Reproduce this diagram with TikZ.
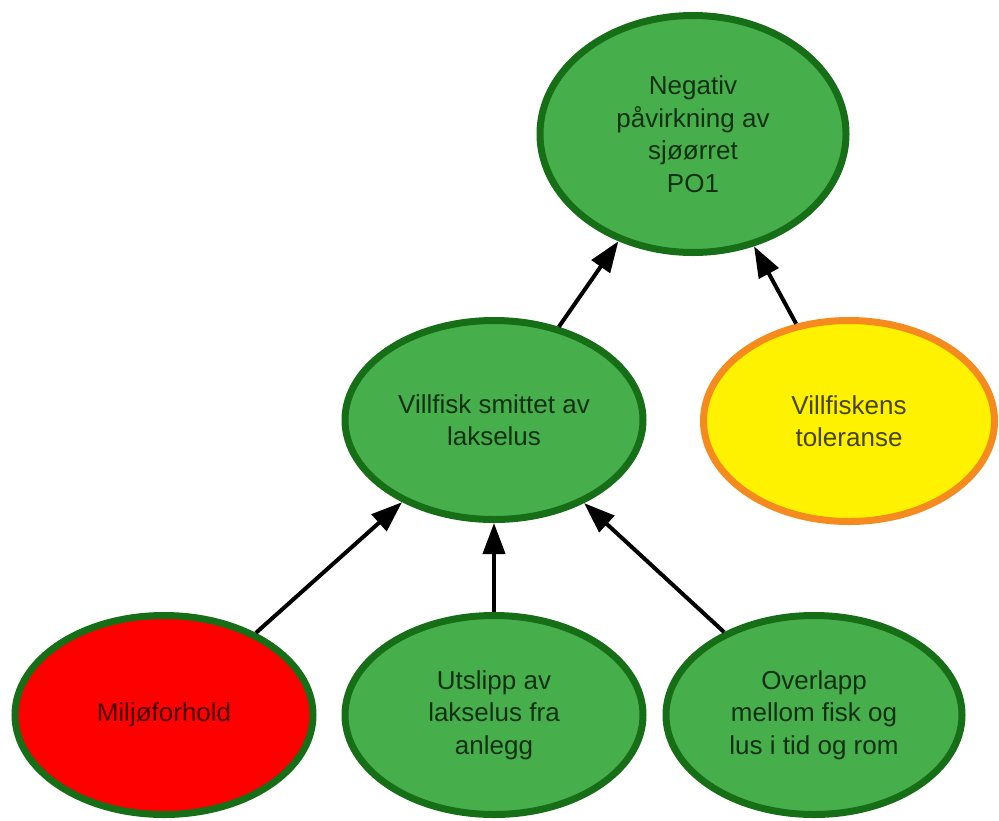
\documentclass[tikz,border=0pt]{standalone}
\usepackage{fontspec}
\setmainfont{Liberation Sans}
\usetikzlibrary{shapes.geometric,arrows.meta}
\definecolor{gfill}{HTML}{46AF4B}
\definecolor{gborder}{HTML}{166E16}
\definecolor{yfill}{HTML}{FFF200}
\definecolor{oborder}{HTML}{F58A1F}
\definecolor{rfill}{HTML}{FF0000}
\begin{document}
\begin{tikzpicture}[x=1pt,y=-1pt,
  oval/.style={ellipse, draw=gborder, line width=7pt, fill=gfill, inner sep=0pt,
    align=center, font=\fontsize{26}{32.5}\selectfont, text opacity=0.72,
    minimum width=298pt, minimum height=199pt},
  conn/.style={-{Triangle[length=31pt,width=22pt]}, line width=4pt, black}]
\useasboundingbox (0,0) rectangle (999,820);
\node[oval, minimum width=306pt, minimum height=237pt] (top) at (693,134) {Negativ\\påvirkning av\\sjøørret\\PO1};
\node[oval] (mid) at (494,420) {Villfisk smittet av\\lakselus};
\node[oval, draw=oborder, fill=yfill, minimum width=291pt, minimum height=201pt] (tol) at (849,421) {Villfiskens\\toleranse};
\node[oval, fill=rfill] (milj) at (164,715) {Miljøforhold};
\node[oval] (uts) at (494,715) {Utslipp av\\lakselus fra\\anlegg};
\node[oval, minimum width=296pt] (over) at (814,715) {Overlapp\\mellom fisk og\\lus i tid og rom};
\draw[conn] (mid) -- (top);
\draw[conn] (tol) -- (top);
\draw[conn] (milj) -- (mid);
\draw[conn] (uts) -- (mid);
\draw[conn] (over) -- (mid);
\end{tikzpicture}
\end{document}
